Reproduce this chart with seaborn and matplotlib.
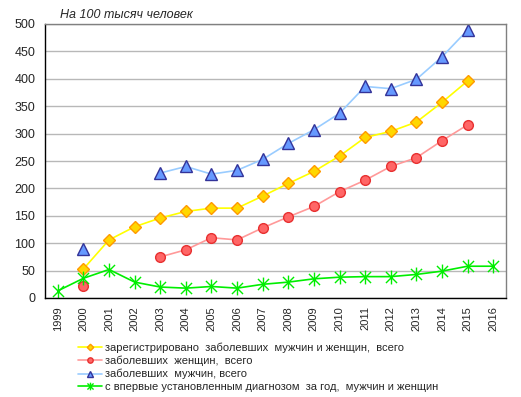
import numpy as np
import pandas as pd
import matplotlib
matplotlib.use("Agg")
import matplotlib.pyplot as plt
from matplotlib.path import Path
import seaborn as sns

# данные (на 100 тысяч человек)
years = list(range(1999, 2017))
total_reg = [None, 53, 106, 130, 146, 158, 164, 164, 186, 209, 231, 259, 293, 304, 321, 357, 396, None]
women = [None, 21, None, None, 75, 88, 110, 106, 128, 148, 167, 194, 215, 240, 256, 287, 316, None]
men = [None, 89, None, None, 228, 240, 226, 233, 253, 282, 307, 337, 386, 382, 399, 440, 489, None]
new_diag = [13, 36, 52, 29, 20, 18, 21, 18, 25, 29, 35, 38, 39, 39, 43, 49, 58, 58]

labels = [
    "зарегистрировано  заболевших  мужчин и женщин,  всего",
    "заболевших  женщин,  всего",
    "заболевших  мужчин, всего",
    "с впервые установленным диагнозом  за год,  мужчин и женщин",
]

sns.set_theme(style="white")
plt.rcParams['font.family'] = ['Liberation Sans', 'DejaVu Sans']

# excel-style asterisk: vertical bar + X
asterisk = Path([(0, -1), (0, 1), (-0.8, -0.8), (0.8, 0.8), (-0.8, 0.8), (0.8, -0.8)],
                [Path.MOVETO, Path.LINETO, Path.MOVETO, Path.LINETO, Path.MOVETO, Path.LINETO])

fig = plt.figure(figsize=(5.21, 3.97), dpi=100)
ax = fig.add_axes([45 / 521, 1 - 298 / 397, 461 / 521, 274 / 397])

styles = [
    dict(color="#FFFF00", marker="D", mfc="#FFD700", mec="#FF9900", ms=6),
    dict(color="#FF9999", marker="o", mfc="#FF6666", mec="#E83030", ms=7),
    dict(color="#99CCFF", marker="^", mfc="#6699FF", mec="#333399", ms=8),
    dict(color="#00EE00", marker=asterisk, mfc="#00EE00", mec="#00EE00", ms=10),
]
series = [total_reg, women, men, new_diag]


def runs(vals):
    # contiguous non-empty pieces
    out, cur = [], []
    for y, v in zip(years, vals):
        if v is None:
            if cur:
                out.append(cur)
            cur = []
        else:
            cur.append((y, v))
    if cur:
        out.append(cur)
    return out


handles = []
for vals, st, lab in zip(series, styles, labels):
    for seg in runs(vals):
        df = pd.DataFrame(seg, columns=["year", "value"])
        sns.lineplot(data=df, x="year", y="value", ax=ax, color=st["color"],
                     linewidth=1.2, marker=st["marker"], markersize=st["ms"],
                     markerfacecolor=st["mfc"], markeredgecolor=st["mec"],
                     markeredgewidth=1.0, legend=False)
    h, = ax.plot([], [], color=st["color"], linewidth=1.2, marker=st["marker"],
                 markersize=st["ms"] * 0.55, markerfacecolor=st["mfc"],
                 markeredgecolor=st["mec"], label=lab)
    handles.append(h)

ax.set_xlim(1998.5, 2016.5)
ax.set_ylim(0, 500)
ax.set_yticks(range(0, 501, 50))
ax.set_xticks(years)
ax.set_xticklabels([str(y) for y in years], rotation=90, fontsize=8)
ax.tick_params(axis="y", labelsize=9, length=0, pad=7)
ax.tick_params(axis="x", length=0, pad=6)
ax.set_xlabel("")
ax.set_ylabel("")
ax.yaxis.grid(True, color="#B8B8B8", linewidth=1)
ax.set_axisbelow(True)
for side in ["top", "right"]:
    ax.spines[side].set_color("#808080")
for side in ["left", "bottom"]:
    ax.spines[side].set_color("#000000")
for sp in ax.spines.values():
    sp.set_linewidth(1)

fig.text(60 / 521, 1 - 15 / 397, "На 100 тысяч человек", fontsize=9,
         style="italic", va="center", ha="left")

fig.legend(handles=handles, loc="upper left", bbox_to_anchor=(72 / 521, 1 - 337 / 397),
           frameon=False, fontsize=8, handlelength=2.2, handletextpad=0.3,
           labelspacing=0.25, borderpad=0)

fig.savefig("out.png", dpi=100)
